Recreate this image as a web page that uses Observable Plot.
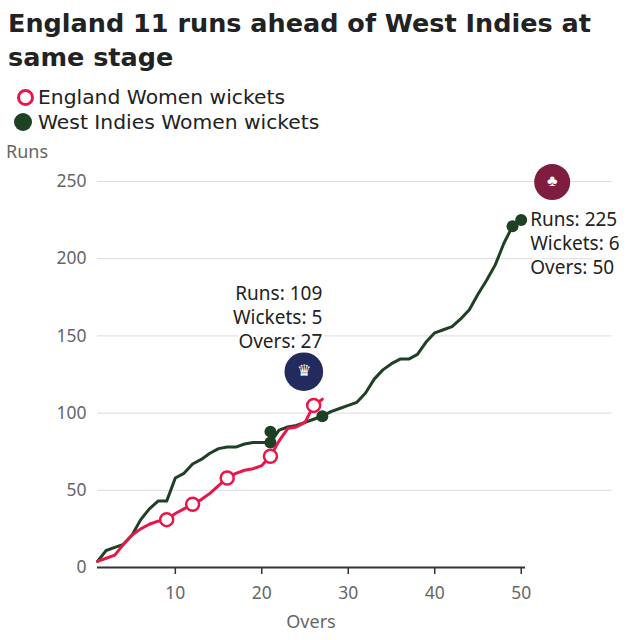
<!DOCTYPE html>
<html>
<head>
<meta charset="utf-8">
<script src="https://cdn.jsdelivr.net/npm/d3@7"></script>
<script src="https://cdn.jsdelivr.net/npm/@observablehq/plot@0.6"></script>
<style>
  body { margin: 0; width: 640px; height: 640px; position: relative; background: #fff; font-family: "Noto Sans", sans-serif; overflow: hidden; }
  .title { position: absolute; left: 8px; font-family: "DejaVu Sans", sans-serif; font-weight: bold; font-size: 25.5px; line-height: 34px; height: 34px; color: #222; white-space: nowrap; }
  .legtext { position: absolute; left: 38px; font-family: "DejaVu Sans", sans-serif; font-size: 20.3px; line-height: 25px; height: 25px; color: #222; white-space: nowrap; }
  .sym { position: absolute; border-radius: 50%; box-sizing: border-box; }
  #runs { position: absolute; left: 6px; top: 139px; font-size: 18px; color: #666; }
  #overs { position: absolute; left: 311px; top: 609px; transform: translateX(-50%); font-size: 18px; color: #666; }
  #chart { position: absolute; left: 0; top: 140px; }
</style>
</head>
<body>
<div class="title" style="top:6px;">England 11 runs ahead of West Indies at</div>
<div class="title" style="top:40px;">same stage</div>
<span class="sym" style="left:17px;top:88.5px;width:17px;height:17px;border:3px solid #e8174a;"></span>
<div class="legtext" style="top:85px;">England Women wickets</div>
<span class="sym" style="left:14px;top:113px;width:18px;height:18px;background:#1e4023;"></span>
<div class="legtext" style="top:110px;">West Indies Women wickets</div>
<div id="runs">Runs</div>
<div id="overs">Overs</div>
<div id="chart"></div>
<script>
// ---- data ----
const overs = [1,2,3,4,5,6,7,8,9,10,11,12,13,14,15,16,17,18,19,20,21,22,23,24,25,26,27,28,29,30,31,32,33,34,35,36,37,38,39,40,41,42,43,44,45,46,47,48,49,50];
const englandRuns = [4,6,8,15,21,25,28,30,31,35,38,41,44,48,53,58,61,63,64,66,72,82,90,91,94,105,109];
const westIndiesRuns = [4,11,13,15,21,31,38,43,43,58,61,67,70,74,77,78,78,80,81,81,81,89,91,92,94,96,98,101,103,105,107,113,122,128,132,135,135,138,146,152,154,156,161,167,177,186,196,210,221,225];
const englandWicketOvers = [9,12,16,21,26];
const englandWicketRuns = [31,41,58,72,105];
const westIndiesWicketOvers = [21,21,27,49,50];
const westIndiesWicketRuns = [81,88,98,221,225];
const englandSummary = {runs: 109, wickets: 5, overs: 27};
const westIndiesSummary = {runs: 225, wickets: 6, overs: 50};
const xTicks = [10,20,30,40,50];
const yTicks = [0,50,100,150,200,250];
const gridRuns = [50,100,150,200,250];
const xDomain = [1, 50];
const yDomain = [0, 250];
const gridEnd = 60.5;   // grid lines run past the last over
const axisEnd = 50.5;

const red = "#e8174a", green = "#1e4023";

const eng = englandRuns.map((r, i) => ({over: overs[i], runs: r}));
const wi = westIndiesRuns.map((r, i) => ({over: overs[i], runs: r}));
const engW = englandWicketOvers.map((o, i) => ({over: o, runs: englandWicketRuns[i]}));
const wiW = westIndiesWicketOvers.map((o, i) => ({over: o, runs: westIndiesWicketRuns[i]}));
const label = s => `Runs: ${s.runs}\nWickets: ${s.wickets}\nOvers: ${s.overs}`;

const chart = Plot.plot({
  width: 640, height: 500,
  marginTop: 41, marginBottom: 73, marginLeft: 97, marginRight: 119.3,
  x: {domain: xDomain},
  y: {domain: yDomain},
  style: {fontFamily: "Noto Sans", fontSize: "17.5px", color: "#666", background: "transparent", overflow: "visible"},
  marks: [
    Plot.ruleY(gridRuns, {x1: xDomain[0], x2: gridEnd, stroke: "#dcdcdc", strokeWidth: 1, strokeOpacity: 1}),
    Plot.axisY({ticks: yTicks, tickSize: 0, tickPadding: 11, label: null, fontSize: 17.5, fill: "#666"}),
    Plot.axisX({ticks: xTicks, tickSize: 7, tickPadding: 12, label: null, fontSize: 17.5, stroke: "#333", fill: "#666", strokeWidth: 1.5}),
    Plot.ruleY([0], {x1: xDomain[0], x2: axisEnd, stroke: "#333", strokeWidth: 2}),
    Plot.line(wi, {x: "over", y: "runs", stroke: green, strokeWidth: 3}),
    Plot.dot(wiW, {x: "over", y: "runs", fill: green, r: 6}),
    Plot.line(eng, {x: "over", y: "runs", stroke: red, strokeWidth: 3}),
    Plot.dot(engW, {x: "over", y: "runs", fill: "white", stroke: red, strokeWidth: 2.5, r: 6.5}),
    // England summary
    Plot.text([englandSummary], {x: "overs", y: "runs", text: label, textAnchor: "end", lineAnchor: "middle", lineHeight: 1.26, dy: -83, fontSize: 19, fill: "#222", stroke: "white", strokeWidth: 5}),
    Plot.dot([englandSummary], {x: "overs", y: "runs", r: 19.3, fill: "#232b5e", dx: -18.5, dy: -27.5}),
    Plot.text([englandSummary], {x: "overs", y: "runs", text: () => "♛", dx: -18.5, dy: -28.5, fontSize: 16, fill: "white"}),
    // West Indies summary
    Plot.text([westIndiesSummary], {x: "overs", y: "runs", text: label, textAnchor: "start", lineAnchor: "middle", lineHeight: 1.26, dx: 9, dy: 22.5, fontSize: 19, fill: "#222", stroke: "white", strokeWidth: 5}),
    Plot.dot([westIndiesSummary], {x: "overs", y: "runs", r: 18, fill: "#7f1d40", dx: 31, dy: -38}),
    Plot.text([westIndiesSummary], {x: "overs", y: "runs", text: () => "♣", dx: 31, dy: -39, fontSize: 16, fill: "white"})
  ]
});
document.getElementById("chart").appendChild(chart);
</script>
</body>
</html>
